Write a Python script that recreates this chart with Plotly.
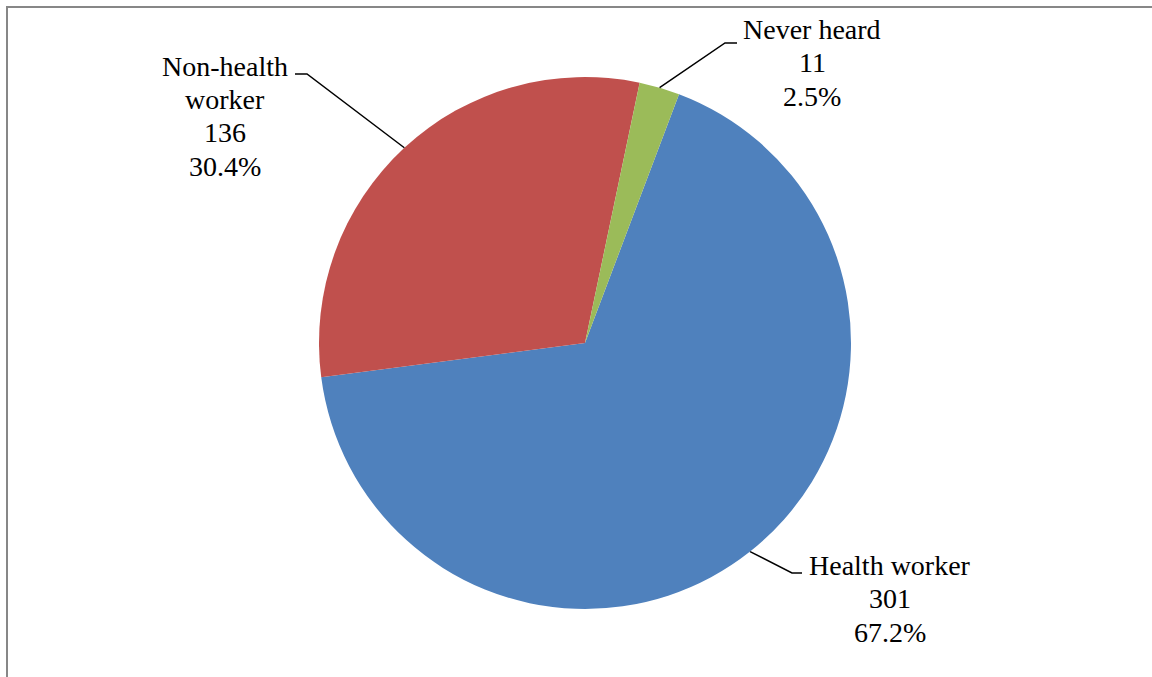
import math
import plotly.graph_objects as go

# Survey responses: source of information
categories = ["Health worker", "Non-health worker", "Never heard"]
counts = [301, 136, 11]
colors = ["#4F81BD", "#C0504D", "#9BBB59"]

W, H = 1152, 677
cx, cy, R = 585, 343, 266          # pie centre and radius in pixels
start_angle = 20.7                  # first slice starts this many degrees clockwise from 12 o'clock

# label block centre (px) and leader-line elbow (px) for each slice
label_pos = [(890, 565), (225, 66), (812, 29)]
elbow = [((792, 573), (802, 573)), ((307, 74), (295, 74)), ((725, 43), (737, 43))]

FONT = "Liberation Serif"
FS = 28
LINE_GAP = 33.5


def px(x):
    return x / W


def py(y):
    return 1 - y / H


fig = go.Figure(go.Pie(
    labels=categories,
    values=counts,
    sort=False,
    direction="clockwise",
    rotation=start_angle,
    marker=dict(colors=colors, line=dict(width=0)),
    textinfo="none",
    hoverinfo="label+value+percent",
    domain=dict(x=[px(cx - R), px(cx + R)], y=[py(cy + R), py(cy - R)]),
    showlegend=False,
))

total = sum(counts)
annotations = []
shapes = []
acc = 0.0
for name, v, (lx, ly), (e1, e2) in zip(categories, counts, label_pos, elbow):
    mid = start_angle + 360 * (acc + v / 2) / total
    acc += v
    a = math.radians(mid)
    sx, sy = cx + R * math.sin(a), cy - R * math.cos(a)
    # leader line: slice edge -> elbow -> short horizontal tick
    shapes.append(dict(type="path", xref="paper", yref="paper",
                       path=f"M {px(sx)},{py(sy)} L {px(e1[0])},{py(e1[1])} L {px(e2[0])},{py(e2[1])}",
                       line=dict(color="black", width=1.5)))
    pct = 100 * v / total
    if name == "Non-health worker":
        lines = ["Non-health", "worker"]
    else:
        lines = [name]
    lines += [str(v), f"{pct:.1f}%"]
    for i, t in enumerate(lines):
        annotations.append(dict(x=px(lx), y=py(ly + i * LINE_GAP), xref="paper", yref="paper",
                                text=t, showarrow=False, xanchor="center", yanchor="middle",
                                font=dict(family=FONT, size=FS, color="black")))

# chart-area frame
shapes.append(dict(type="rect", xref="paper", yref="paper",
                   x0=px(7), y0=py(700), x1=px(1170), y1=py(7),
                   line=dict(color="#878787", width=2)))

fig.update_layout(
    width=W, height=H,
    margin=dict(l=0, r=0, t=0, b=0),
    paper_bgcolor="white",
    plot_bgcolor="white",
    annotations=annotations,
    shapes=shapes,
)

fig.write_html("out.html")
